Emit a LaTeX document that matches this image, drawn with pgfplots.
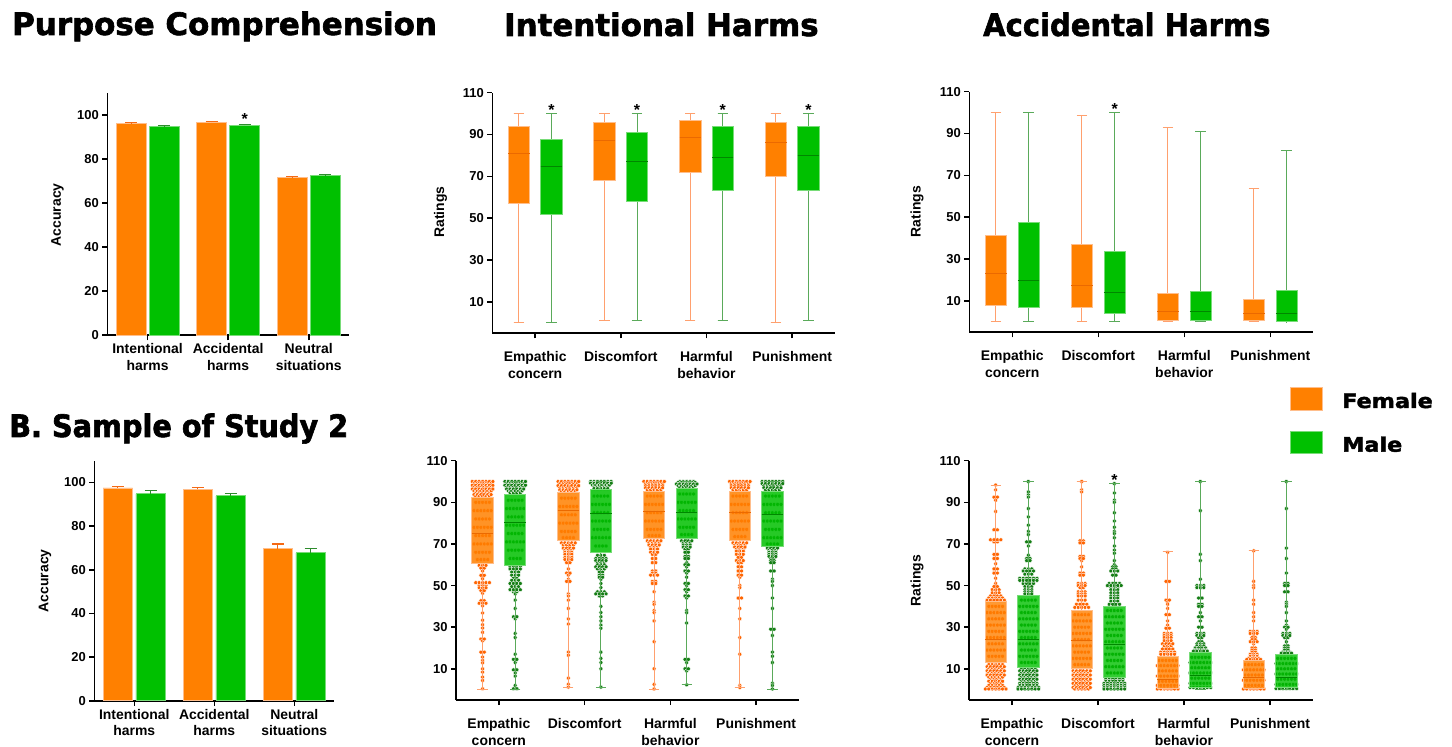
\documentclass[border=0pt]{standalone}
\usepackage{fontspec}
\setmainfont{Liberation Sans}
\newfontfamily\titlefam{DejaVu Sans}[FakeBold=2]
\usepackage{pgfplots}
\usepackage{pgfplotstable}
\pgfplotsset{compat=1.18}
\usepgfplotslibrary{statistics}

\definecolor{cOr}{RGB}{255,128,0}
\definecolor{cGr}{RGB}{0,192,0}
\definecolor{cOrEdge}{RGB}{255,190,140}
\definecolor{cGrEdge}{RGB}{120,220,120}
\definecolor{cOrWh}{RGB}{255,160,110}
\definecolor{cGrWh}{RGB}{90,170,90}
\definecolor{cOrMed}{RGB}{235,105,0}
\definecolor{cGrMed}{RGB}{0,135,0}
\definecolor{cOrDot}{RGB}{255,100,0}
\definecolor{cGrDot}{RGB}{20,125,20}
\definecolor{cOrErr}{RGB}{245,105,20}
\definecolor{cGrErr}{RGB}{45,140,45}

\newcommand\ttl{\titlefam\bfseries\fontsize{31}{36}\selectfont}
\newcommand\lgf{\titlefam\bfseries\fontsize{20}{24}\selectfont}
\newcommand\lbl{\bfseries\fontsize{14}{16.5}\selectfont}
\newcommand\tkf{\bfseries\fontsize{13}{15}\selectfont}
\newcommand\stf{\bfseries\fontsize{16}{18}\selectfont}

\pgfplotsset{
 panel/.style={scale only axis, anchor=south west, clip=false,
  axis x line*=bottom, axis y line*=left,
  axis line style={line width=1.6bp, black},
  tick style={line width=1.6bp, black},
  major tick length=5bp, tick align=outside,
  yticklabel style={font=\tkf},
  xticklabel style={font=\lbl, align=center},
  /pgf/number format/assume math mode=true,
  enlargelimits=false},
 barpanel/.style={panel, xmin=-0.5, xmax=2.5, ymin=0, ymax=110,
  ytick={0,20,...,100}, xtick={0,1,2},
  xticklabels={{Intentional\\harms},{Accidental\\harms},{Neutral\\situations}}},
 boxpanel/.style={panel, xmin=-0.5, xmax=3.5, ymin=-5, ymax=110,
  ytick={10,30,...,110}, xtick={0,1,2,3}, clip marker paths=true,
  xticklabels={{Empathic\\concern},{Discomfort},{Harmful\\behavior},{Punishment}},
  xticklabel style={yshift=-10bp}},
 obox/.style={boxplot/draw direction=y, fill=cOr, draw=cOrEdge, line width=0.8bp,
  boxplot/every whisker/.style={draw=cOrWh, line width=1bp},
  boxplot/every median/.style={draw=cOrMed, line width=1bp}},
 gbox/.style={boxplot/draw direction=y, fill=cGr, draw=cGrEdge, line width=0.8bp,
  boxplot/every whisker/.style={draw=cGrWh, line width=1bp},
  boxplot/every median/.style={draw=cGrMed, line width=1bp}},
 obar/.style={ybar, bar width=0.37, bar shift=0pt, fill=cOr, draw=cOrEdge, line width=0.8bp,
  error bars/.cd, y dir=plus, y explicit, error mark=|,
  error bar style={draw=cOrErr, line width=1.1bp},
  error mark options={draw=cOrErr, line width=1.1bp, mark size=6bp}},
 gbar/.style={ybar, bar width=0.37, bar shift=0pt, fill=cGr, draw=cGrEdge, line width=0.8bp,
  error bars/.cd, y dir=plus, y explicit, error mark=|,
  error bar style={draw=cGrErr, line width=1.1bp},
  error mark options={draw=cGrErr, line width=1.1bp, mark size=6bp}},
}

% #1 style, #2 position, #3 lower whisker, #4 Q1, #5 median, #6 Q3, #7 upper whisker
\newcommand\bx[7]{\addplot[#1, boxplot prepared={draw position=#2, lower whisker=#3,
  lower quartile=#4, median=#5, upper quartile=#6, upper whisker=#7,
  box extend=0.25, whisker extend=0.12}] coordinates {};}

% swarm: rows of n dots at value y
\newcommand\swarm[3]{%
 \foreach \j in {1,...,7}{%
  \addplot[only marks, mark=*, mark size=2bp,
   mark options={fill=#2, draw=white, line width=0.4bp}]
   table[x expr={#1+0.04*(\j-(\thisrow{n}+1)/2)},
         y expr={\thisrow{n}<\j ? nan : \thisrow{y}}] {#3};
 }}

% ---------- Study 2, intentional harms (value, dots in row)
\pgfplotstableread{
y n
100 7
99.1 6
98.2 7
97.3 6
96.4 7
95.5 6
94.6 5
93.7 6
92.9 5
90 5
86 6
82 5
78 6
74 5
70 6
66 5
62.5 4
59.7 3
58.4 2
57 1
54.9 2
53.3 1
51.4 5
50.1 3
48.9 3
47.6 2
46.3 1
42.7 2
41.5 3
40.3 1
36.8 1
33.3 1
31.2 1
29.6 1
27.5 1
24.3 2
23.5 1
18 2
15.6 1
14 1
12.9 1
10 1
8.4 1
6 1
4.4 1
0.4 1
}\tIOa
\pgfplotstableread{
y n
100 7
99.1 6
98.2 7
97.3 6
96.4 6
95.5 5
94.6 4
91 5
87 6
83 5
79 6
75 5
71 6
67 5
63 4
59 4
58 4
56.5 3
55 3
53.5 2
52.5 3
51 4
49.5 3
48 4
47 2
46 1
43 1
39 1
35 2
34 1
27 1
25 1
17 1
14.5 2
13 1
9.5 2
8 1
6.5 1
2 1
0.4 2
}\tIGa
\pgfplotstableread{
y n
100 7
99 6
98 7
97 6
96 6
95.2 5
92 5
88 6
84 5
80 6
76 5
73 4
70.5 5
69.5 4
68 4
67 3
66 3
65 3
63.5 3
62.5 3
61 2
58 1
56 2
55 1
53 1
52 2
46 1
45 1
43 1
39 1
34 1
31.5 1
18 1
16.5 1
5.5 1
2.5 1
1.2 1
}\tIOb
\pgfplotstableread{
y n
100 7
99.2 7
98.3 6
97.4 5
96.6 5
93 5
89 6
85 5
81 6
77 5
73 6
69 4
64.5 3
63 4
62 4
61 3
60 3
59 4
58 3
56.5 2
55 2
54 2
53 1
51 1
49 1
47 3
46 4
45 2
40 1
37 1
35 1
33 1
31 1
29.5 1
18 1
15 1
13 1
10 1
1.2 1
}\tIGb
\pgfplotstableread{
y n
100 7
99 6
98 6
97 6
96 5
93 5
89 6
85 5
81 6
77 5
74 4
71.5 5
70.5 4
69.5 4
68.5 3
67.5 3
66 3
65 2
63 2
61 2
57 2
56 2
55 3
52 2
51 2
47 1
42 1
41 1
38 1
37 1
33 1
23 1
10 1
2.5 1
0.3 1
}\tIOc
\pgfplotstableread{
y n
100 5
99.5 6
98.8 7
98 6
97.2 5
94 5
90 6
86 5
82 6
78 5
74.5 4
71.5 4
70.5 3
69.5 3
68.5 3
67.5 2
66 2
64 2
63 2
61 1
60 2
59 1
57 2
56 1
54 1
51 2
50 1
48 2
47 1
45 2
44 1
38 1
37 1
32 1
14.5 2
13 1
10 2
9 1
2.3 1
}\tIGc
\pgfplotstableread{
y n
100 7
99 6
98 6
97 6
96 5
93 5
89 6
85 5
81 6
77 5
73.5 4
70.5 5
69.5 4
68.5 4
67.5 3
66.5 3
65 3
63.5 2
62 3
61 2
59 2
57 2
55 2
54 1
50 1
49 1
44 2
39 1
34 1
25 1
17 1
2 1
1 1
}\tIOd
\pgfplotstableread{
y n
100 7
99 7
98 6
97 6
96 5
93 5
89 6
85 5
81 6
77 5
73 6
70 4
68 4
67 3
66 3
65 3
64 3
63 2
62 2
61 2
57 2
53 1
52 1
50 1
44 1
39 1
29 2
26 1
18 1
16 1
13 1
3 1
2 1
0.3 1
}\tIGd
% ---------- Study 2, accidental harms
\pgfplotstableread{
y n
98.3 1
96 1
92.5 2
91 1
85.6 1
76.8 2
72 4
71 2
65 2
63 2
60.5 1
58 2
56 2
53.5 1
51 1
49.5 2
48 3
46.5 3
45 4
44 5
43 6
40 5
37 6
34 5
31 6
28 5
25 6
22 5
19 6
16 5
12 5
11 6
10 5
9 6
8 5
7 6
6 5
5 4
4 5
3 4
2 5
1 6
0.3 7
}\tAOa
\pgfplotstableread{
y n
100 1
95 1
93.6 1
92.5 1
87 1
83 1
79 1
76 1
74.5 1
71 2
69 1
64.5 1
63 2
62 2
58 3
57 4
55.5 3
53.5 6
52.5 6
51 4
49.5 3
48 3
47 3
46 3
43 5
40 6
37 5
34 6
31 5
28 6
25 5
22 6
19 5
16 6
13 5
10 5
9 6
8 5
7 6
6 5
5 6
4 5
3 6
2 6
1 7
0.3 7
}\tAGa
\pgfplotstableread{
y n
100 1
96 1
95 1
71.5 2
70.5 2
64 2
63 2
62 1
59 1
56 2
55 2
51 3
50 3
49 2
47 3
46 3
45 3
43 3
41 4
39.5 5
36 5
33 6
30 5
27 6
24 5
21 6
18 5
15 6
12 5
9 6
8 5
7 6
6 5
5 6
4 5
3 6
2 5
1 6
0.3 5
}\tAOb
\pgfplotstableread{
y n
99 1
94.5 1
91 1
90 1
85 1
81 1
78 1
76 1
75 1
73 1
69 1
67 1
65.5 1
62 1
60 1
59 2
58 2
57 3
55 2
51 4
50 5
49 3
48 3
46.5 3
45 3
44 3
42.5 3
41 4
38 5
35 6
32 5
29 6
26 5
23 6
20 5
17 6
14 5
11 6
8 5
5 6
4 6
3 7
2 7
1 7
0.3 7
}\tAGb
\pgfplotstableread{
y n
66 1
52 2
43 2
42 1
41 1
39 1
36 2
33 1
31 1
29.5 2
27 3
26 3
25 3
23.5 3
22 4
21 3
19.5 4
18 5
17 5
14 6
11.5 7
9 6
6.5 7
4 6
2 7
0.3 7
}\tAOc
\pgfplotstableread{
y n
100 1
86 1
65 1
62 1
53 1
50 3
49 3
44 2
41 2
40 2
37 1
35 2
33 1
30 2
27 3
26 3
25 2
23 2
22 3
21 3
20 4
19 4
18.5 5
15.5 6
13 7
10.5 6
8 7
5.5 6
3 7
1 7
}\tAGc
\pgfplotstableread{
y n
66.7 1
52 1
50 1
49 1
43 1
41 1
37 1
35 1
33 1
28 3
27 3
26 1
25 2
24 2
23 3
22 1
20 2
19 2
18 2
17 3
16 3
15 4
14.5 5
12 6
9.5 7
7 6
4.5 7
2 6
0.3 7
}\tAOd
\pgfplotstableread{
y n
100 1
87 1
68 1
63 1
56 1
51 2
50 2
47 2
42 1
41 1
40 1
37 1
33 1
31 1
30 2
29 1
27 3
26 3
25 2
23 1
21 2
20 2
19 2
18 3
17.5 4
15 6
12.5 7
10 6
7.5 7
5 6
2.5 7
0.5 7
}\tAGd

\begin{document}
\begin{tikzpicture}
\path[use as bounding box] (0bp,0bp) rectangle (1452bp,747bp);

% titles
\node[anchor=base west, inner sep=0pt, font=\ttl] at (12bp,712bp) {Purpose Comprehension};
\node[anchor=base west, inner sep=0pt, font=\ttl] at (504bp,711bp) {Intentional Harms};
\node[anchor=base west, inner sep=0pt, font=\ttl, xscale=0.94] at (983bp,711bp) {Accidental Harms};
\node[anchor=base west, inner sep=0pt, font=\ttl, xscale=0.93] at (9bp,310bp) {B. Sample of Study 2};

% legend
\filldraw[fill=cOr, draw=cOrEdge, line width=0.8bp] (1290bp,337bp) rectangle (1322bp,360bp);
\filldraw[fill=cGr, draw=cGrEdge, line width=0.8bp] (1290bp,294bp) rectangle (1322bp,316bp);
\node[anchor=base west, inner sep=0pt, font=\lgf, xscale=1.12] at (1342bp,339bp) {Female};
\node[anchor=base west, inner sep=0pt, font=\lgf, xscale=1.12] at (1342bp,295.3bp) {Male};

% y labels
\node[rotate=90, font=\lbl] at (57.5bp,532.2bp) {Accuracy};
\node[rotate=90, font=\lbl] at (45bp,166.2bp) {Accuracy};
\node[rotate=90, font=\lbl] at (440.5bp,535bp) {Ratings};
\node[rotate=90, font=\lbl] at (917bp,535.3bp) {Ratings};
\node[rotate=90, font=\lbl] at (917bp,166.5bp) {Ratings};

% ===== Purpose comprehension, study 1
\begin{axis}[barpanel, at={(107.3bp,411.7bp)}, width=241.7bp, height=242.3bp]
\addplot[obar] coordinates {(-0.205,96.1) +- (0,0.35) (0.795,96.8) +- (0,0.35) (1.795,71.6) +- (0,0.4)};
\addplot[gbar] coordinates {(0.205,94.8) +- (0,0.35) (1.205,95.4) +- (0,0.35) (2.205,72.5) +- (0,0.45)};
\node[anchor=base, font=\stf, inner sep=0pt] at (axis cs:1.205,95.9) {*};
\end{axis}

% ===== Purpose comprehension, study 2
\begin{axis}[barpanel, at={(94.3bp,46.3bp)}, width=240bp, height=240bp]
\addplot[obar] coordinates {(-0.205,97.5) +- (0,0.8) (0.795,96.8) +- (0,0.9) (1.795,69.7) +- (0,2.1)};
\addplot[gbar] coordinates {(0.205,94.8) +- (0,1.4) (1.205,93.9) +- (0,1.2) (2.205,67.8) +- (0,1.9)};
\end{axis}

% ===== Intentional harms, study 1
\begin{axis}[boxpanel, at={(492.3bp,413.7bp)}, width=342.7bp, height=240.6bp]
\bx{obox}{-0.19}{0}{57.1}{81.1}{93.9}{100}
\bx{gbox}{0.19}{0}{51.9}{74.7}{87.6}{100}
\bx{obox}{0.81}{1}{68}{87}{95.8}{100}
\bx{gbox}{1.19}{1}{57.9}{77.1}{90.8}{100}
\bx{obox}{1.81}{1}{72}{88.4}{96.9}{100}
\bx{gbox}{2.19}{1}{63.2}{79}{93.9}{100}
\bx{obox}{2.81}{0}{70.2}{86}{95.8}{100}
\bx{gbox}{3.19}{1}{63.2}{80}{93.9}{100}
\node[anchor=base, font=\stf, inner sep=0pt] at (axis cs:0.19,99) {*};
\node[anchor=base, font=\stf, inner sep=0pt] at (axis cs:1.19,99) {*};
\node[anchor=base, font=\stf, inner sep=0pt] at (axis cs:2.19,99) {*};
\node[anchor=base, font=\stf, inner sep=0pt] at (axis cs:3.19,99) {*};
\end{axis}

% ===== Accidental harms, study 1
\begin{axis}[boxpanel, at={(969.3bp,414.7bp)}, width=344bp, height=240.6bp]
\bx{obox}{-0.19}{0}{7.8}{23.1}{41.4}{100}
\bx{gbox}{0.19}{0}{6.8}{19.9}{47.5}{100}
\bx{obox}{0.81}{0}{6.8}{17.3}{37}{98.8}
\bx{gbox}{1.19}{0}{3.8}{14}{33.8}{100}
\bx{obox}{1.81}{0}{0.9}{4.9}{13.5}{92.8}
\bx{gbox}{2.19}{0}{0.9}{4.9}{14.5}{90.9}
\bx{obox}{2.81}{0}{0.9}{3.9}{10.6}{63.7}
\bx{gbox}{3.19}{0}{0.1}{3.9}{14.8}{81.8}
\node[anchor=base, font=\stf, inner sep=0pt] at (axis cs:1.19,99.2) {*};
\end{axis}

% ===== Intentional harms, study 2
\begin{axis}[boxpanel, at={(456bp,47bp)}, width=343bp, height=239.3bp]
\swarm{-0.19}{cOrDot}{\tIOa}
\swarm{0.19}{cGrDot}{\tIGa}
\swarm{0.81}{cOrDot}{\tIOb}
\swarm{1.19}{cGrDot}{\tIGb}
\swarm{1.81}{cOrDot}{\tIOc}
\swarm{2.19}{cGrDot}{\tIGc}
\swarm{2.81}{cOrDot}{\tIOd}
\swarm{3.19}{cGrDot}{\tIGd}
\bx{obox,fill opacity=0.85}{-0.19}{0}{60.7}{75}{92.3}{100}
\bx{gbox,fill opacity=0.85}{0.19}{0}{59.8}{80.5}{94}{100}
\bx{obox,fill opacity=0.85}{0.81}{1.2}{71.7}{86}{94.8}{100}
\bx{gbox,fill opacity=0.85}{1.19}{1.2}{66}{84.6}{96.2}{100}
\bx{obox,fill opacity=0.85}{1.81}{0}{72.7}{85.5}{95.2}{100}
\bx{gbox,fill opacity=0.85}{2.19}{2.3}{72.7}{85.3}{96.8}{100}
\bx{obox,fill opacity=0.85}{2.81}{1}{71.9}{85}{95.3}{100}
\bx{gbox,fill opacity=0.85}{3.19}{0}{68.7}{84}{95.2}{100}
\end{axis}

% ===== Accidental harms, study 2
\begin{axis}[boxpanel, at={(969bp,47bp)}, width=344bp, height=239.3bp]
\swarm{-0.19}{cOrDot}{\tAOa}
\swarm{0.19}{cGrDot}{\tAGa}
\swarm{0.81}{cOrDot}{\tAOb}
\swarm{1.19}{cGrDot}{\tAGb}
\swarm{1.81}{cOrDot}{\tAOc}
\swarm{2.19}{cGrDot}{\tAGc}
\swarm{2.81}{cOrDot}{\tAOd}
\swarm{3.19}{cGrDot}{\tAGd}
\bx{obox,fill opacity=0.8}{-0.19}{0}{13.2}{24.2}{42.6}{98.3}
\bx{gbox,fill opacity=0.8}{0.19}{0}{10.6}{24}{45.5}{100}
\bx{obox,fill opacity=0.8}{0.81}{0}{10}{23.4}{38.1}{100}
\bx{gbox,fill opacity=0.8}{1.19}{0}{5.8}{21.8}{40}{99.1}
\bx{obox,fill opacity=0.8}{1.81}{0}{0.4}{5}{16.1}{66.2}
\bx{gbox,fill opacity=0.8}{2.19}{0}{1}{7}{17.8}{100}
\bx{obox,fill opacity=0.8}{2.81}{0}{0.4}{6}{14}{66.7}
\bx{gbox,fill opacity=0.8}{3.19}{0}{1}{6}{16.9}{100}
\node[anchor=base, font=\stf, inner sep=0pt] at (axis cs:1.19,98.3) {*};
\end{axis}
\end{tikzpicture}
\end{document}
